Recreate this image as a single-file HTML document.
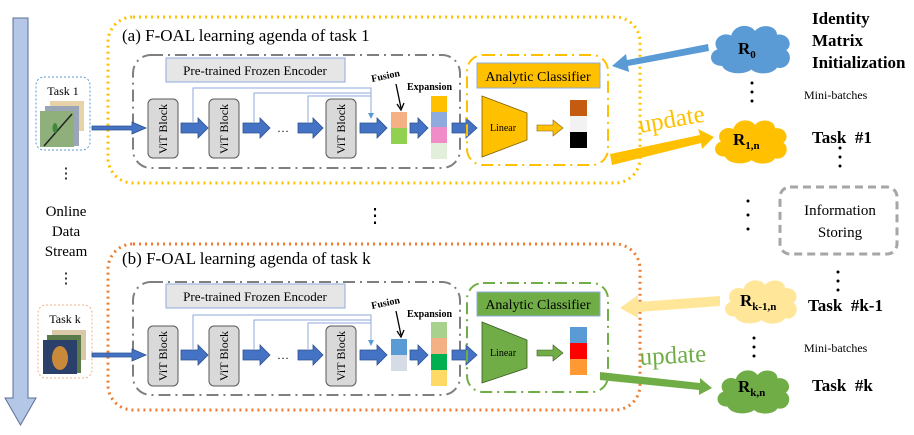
<!DOCTYPE html>
<html><head><meta charset="utf-8"><style>html,body{margin:0;padding:0;background:#fff}svg{display:block}</style></head><body>
<svg width="914" height="435" viewBox="0 0 914 435" xmlns="http://www.w3.org/2000/svg" font-family="Liberation Serif, serif">
<defs>
<marker id="ah" markerWidth="6" markerHeight="6" refX="3" refY="3" orient="auto"><path d="M0,0 L6,3 L0,6z" fill="#5b9bd5"/></marker>
<symbol id="cloud" viewBox="0 0 100 60"><path d="M20,50 C5,50 5,35 15,32 C8,22 20,12 30,17 C33,5 50,3 56,12 C63,3 80,6 80,16 C93,14 98,28 90,33 C99,40 92,55 80,52 C75,60 58,60 52,54 C45,60 25,60 20,50z"/></symbol>
</defs>
<path d="M13,18 H28 V398 H36 L20.5,425 L5,398 H13z" fill="#b4c7e7" stroke="#5a6f96" stroke-width="1"/>
<g font-size="15" text-anchor="middle" fill="#000">
<text x="66" y="216">Online</text><text x="66" y="236">Data</text><text x="66" y="256">Stream</text>
<text x="66" y="178">⋮</text><text x="66" y="283">⋮</text>
</g>
<text x="375" y="222" font-size="20" text-anchor="middle">⋮</text>

<rect x="108" y="17" width="532" height="166" rx="25" fill="none" stroke="#ffc000" stroke-width="3" stroke-dasharray="2,4"/>
<text x="122" y="41" font-size="17">(a) F-OAL learning agenda of task 1</text>
<rect x="133" y="55" width="327" height="113" rx="18" fill="none" stroke="#7f7f7f" stroke-width="2" stroke-dasharray="12,5,2,5"/>
<rect x="166" y="58" width="179" height="24" fill="#e7e6e6" stroke="#8faadc"/>
<text x="255" y="75" font-size="13" text-anchor="middle">Pre-trained Frozen Encoder</text>
<rect x="36" y="77" width="54" height="73" rx="8" fill="none" stroke="#5b9bd5" stroke-dasharray="2,2"/>
<text x="63" y="95" font-size="12" text-anchor="middle">Task 1</text>
<rect x="50" y="101" width="34" height="30" fill="#e8d3a8"/><rect x="45" y="106" width="34" height="40" fill="#9aa6b8"/><rect x="40" y="111" width="34" height="36" fill="#8fb07a"/>
<path d="M44,146 L72,114" stroke="#222" stroke-width="1.5"/><ellipse cx="55" cy="128" rx="2.5" ry="5" fill="#3c8a3c"/>
<g fill="#4472c4" stroke="#2f528f" stroke-width="0.8">
<path d="M92,126 H132 V122 L146,128 L132,134 V130 H92z"/>
<path d="M181,123 H198 V118 L208,128 L198,138 V133 H181z"/>
<path d="M243,123 H260 V118 L270,128 L260,138 V133 H243z"/>
<path d="M298,123 H313 V118 L323,128 L313,138 V133 H298z"/>
<path d="M360,123 H377 V118 L387,128 L377,138 V133 H360z"/>
<path d="M410,123 H418 V118 L428,128 L418,138 V133 H410z"/>
<path d="M452,123 H466 V118 L477,128 L466,138 V133 H452z"/>
</g>
<text x="283" y="132" font-size="12" text-anchor="middle">…</text>
<g fill="#d9d9d9" stroke="#595959" stroke-width="1">
<rect x="148" y="99" width="30" height="59" rx="5"/><rect x="209" y="99" width="30" height="59" rx="5"/><rect x="326" y="99" width="30" height="59" rx="5"/>
</g>
<g font-size="12" text-anchor="middle">
<text transform="translate(167,129) rotate(-90)">ViT Block</text>
<text transform="translate(228,129) rotate(-90)">ViT Block</text>
<text transform="translate(345,129) rotate(-90)">ViT Block</text>
</g>
<g fill="none" stroke="#8faadc" stroke-width="1">
<path d="M193,122 V88 H371 V116" marker-end="url(#ah)"/><path d="M254,122 V93 H371"/><path d="M308,122 V96 H371"/>
</g>
<text transform="translate(372,82) rotate(-12)" font-size="10" font-weight="bold">Fusion</text>
<path d="M396,84 L401,108" stroke="#000" stroke-width="1.3"/><path d="M397,104 L401,110 L404,103" fill="none" stroke="#000" stroke-width="1.3"/>
<rect x="391" y="112" width="16" height="16" fill="#f4b183"/><rect x="391" y="128" width="16" height="16" fill="#92d050"/>
<text x="407" y="90" font-size="10" font-weight="bold">Expansion</text>
<rect x="431" y="96" width="16" height="16" fill="#ffc000"/><rect x="431" y="112" width="16" height="15" fill="#8faadc"/><rect x="431" y="127" width="16" height="16" fill="#f08cc8"/><rect x="431" y="143" width="16" height="16" fill="#e2efda"/>
<rect x="467" y="55" width="141" height="110" rx="16" fill="none" stroke="#ffc000" stroke-width="2" stroke-dasharray="12,5,2,5"/>
<rect x="477" y="63" width="123" height="25" fill="#ffc000" stroke="#8faadc"/>
<text x="538" y="81" font-size="14" text-anchor="middle">Analytic Classifier</text>
<path d="M482,96 L527,113 L527,140 L482,157z" fill="#ffc000" stroke="#7f6000" stroke-width="0.8"/>
<text x="503" y="131" font-size="10" text-anchor="middle">Linear</text>
<path d="M537,125 H553 V120 L563,128 L553,136 V131 H537z" fill="#ffc000" stroke="#7f6000" stroke-width="0.6"/>
<rect x="570" y="100" width="17" height="16" fill="#c55a11"/><rect x="570" y="116" width="17" height="16" fill="#f2f2f2"/><rect x="570" y="132" width="17" height="16" fill="#000"/>
<path d="M708,44 L627,60 L626,54 L612,66 L629,72 L628,66 L709,51z" fill="#5b9bd5"/>
<path d="M610,154 L700,135 L698,129 L714,137 L702,149 L701,143 L612,165z" fill="#ffc000"/>
<text transform="translate(640,133) rotate(-10)" font-size="25" fill="#ffc000">update</text>

<rect x="108" y="244" width="532" height="166" rx="25" fill="none" stroke="#ed7d31" stroke-width="3" stroke-dasharray="2,4"/>
<text x="122" y="264" font-size="17">(b) F-OAL learning agenda of task k</text>
<rect x="133" y="282" width="327" height="113" rx="18" fill="none" stroke="#7f7f7f" stroke-width="2" stroke-dasharray="12,5,2,5"/>
<rect x="166" y="284" width="179" height="24" fill="#e7e6e6" stroke="#8faadc"/>
<text x="255" y="301" font-size="13" text-anchor="middle">Pre-trained Frozen Encoder</text>
<rect x="38" y="305" width="54" height="73" rx="8" fill="none" stroke="#f4b183" stroke-dasharray="2,2"/>
<text x="65" y="323" font-size="12" text-anchor="middle">Task k</text>
<rect x="52" y="330" width="34" height="30" fill="#d9c9a8"/><rect x="47" y="335" width="34" height="38" fill="#5a7a4a"/><rect x="43" y="340" width="34" height="34" fill="#2a3f6a"/>
<ellipse cx="60" cy="358" rx="8" ry="12" fill="#c88a3a"/>
<g fill="#4472c4" stroke="#2f528f" stroke-width="0.8">
<path d="M92,353 H132 V349 L146,355 L132,361 V357 H92z"/>
<path d="M181,350 H198 V345 L208,355 L198,365 V360 H181z"/>
<path d="M243,350 H260 V345 L270,355 L260,365 V360 H243z"/>
<path d="M298,350 H313 V345 L323,355 L313,365 V360 H298z"/>
<path d="M360,350 H377 V345 L387,355 L377,365 V360 H360z"/>
<path d="M410,350 H418 V345 L428,355 L418,365 V360 H410z"/>
<path d="M452,350 H466 V345 L477,355 L466,365 V360 H452z"/>
</g>
<text x="283" y="359" font-size="12" text-anchor="middle">…</text>
<g fill="#d9d9d9" stroke="#595959" stroke-width="1">
<rect x="148" y="326" width="30" height="60" rx="5"/><rect x="209" y="326" width="30" height="60" rx="5"/><rect x="326" y="326" width="30" height="60" rx="5"/>
</g>
<g font-size="12" text-anchor="middle">
<text transform="translate(167,356) rotate(-90)">ViT Block</text>
<text transform="translate(228,356) rotate(-90)">ViT Block</text>
<text transform="translate(345,356) rotate(-90)">ViT Block</text>
</g>
<g fill="none" stroke="#8faadc" stroke-width="1">
<path d="M193,349 V315 H371 V343" marker-end="url(#ah)"/><path d="M254,349 V320 H371"/><path d="M308,349 V323 H371"/>
</g>
<text transform="translate(372,309) rotate(-12)" font-size="10" font-weight="bold">Fusion</text>
<path d="M396,311 L401,335" stroke="#000" stroke-width="1.3"/><path d="M397,331 L401,337 L404,330" fill="none" stroke="#000" stroke-width="1.3"/>
<rect x="391" y="339" width="16" height="16" fill="#5b9bd5"/><rect x="391" y="355" width="16" height="16" fill="#d6dce5"/>
<text x="407" y="317" font-size="10" font-weight="bold">Expansion</text>
<rect x="431" y="322" width="16" height="16" fill="#a9d18e"/><rect x="431" y="338" width="16" height="16" fill="#f4b183"/><rect x="431" y="354" width="16" height="16" fill="#00b050"/><rect x="431" y="370" width="16" height="16" fill="#ffd966"/>
<rect x="467" y="283" width="141" height="109" rx="16" fill="none" stroke="#70ad47" stroke-width="2" stroke-dasharray="12,5,2,5"/>
<rect x="477" y="292" width="123" height="24" fill="#70ad47" stroke="#8faadc"/>
<text x="538" y="309" font-size="14" text-anchor="middle">Analytic Classifier</text>
<path d="M482,322 L527,340 L527,368 L482,383z" fill="#70ad47" stroke="#385723" stroke-width="0.8"/>
<text x="503" y="356" font-size="10" text-anchor="middle">Linear</text>
<path d="M537,350 H553 V345 L563,353 L553,361 V356 H537z" fill="#70ad47" stroke="#385723" stroke-width="0.6"/>
<rect x="570" y="327" width="17" height="16" fill="#5b9bd5"/><rect x="570" y="343" width="17" height="16" fill="#ff0000"/><rect x="570" y="359" width="17" height="16" fill="#ff9933"/>
<path d="M720,296 L638,302 L638,295 L620,308 L638,318 L638,312 L720,306z" fill="#ffe699"/>
<path d="M600,372 L700,383 L700,378 L712,388 L699,395 L699,390 L600,380z" fill="#70ad47"/>
<text transform="translate(640,365) rotate(-3)" font-size="25" fill="#70ad47">update</text>

<use href="#cloud" x="702" y="20" width="95" height="55" fill="#5b9bd5"/>
<use href="#cloud" x="705" y="115" width="90" height="50" fill="#ffc000"/>
<use href="#cloud" x="715" y="275" width="90" height="50" fill="#ffe699"/>
<use href="#cloud" x="705" y="365" width="95" height="50" fill="#70ad47"/>
<g font-weight="bold" font-size="17">
<text x="738" y="54">R<tspan font-size="11" dy="4">0</tspan></text>
<text x="733" y="145">R<tspan font-size="11" dy="4">1,n</tspan></text>
<text x="740" y="306">R<tspan font-size="11" dy="4">k-1,n</tspan></text>
<text x="738" y="392">R<tspan font-size="11" dy="4">k,n</tspan></text>
</g>
<g font-weight="bold" font-size="17">
<text x="812" y="24">Identity</text><text x="812" y="46">Matrix</text><text x="812" y="68">Initialization</text>
<text x="812" y="143">Task&#160;&#160;#1</text><text x="808" y="311">Task&#160;&#160;#k-1</text><text x="812" y="391">Task&#160;&#160;#k</text>
</g>
<text x="804" y="99" font-size="12">Mini-batches</text>
<text x="804" y="352" font-size="12">Mini-batches</text>
<g fill="#000">
<circle cx="752" cy="83" r="1.5"/><circle cx="752" cy="92" r="1.5"/><circle cx="752" cy="101" r="1.5"/>
<circle cx="748" cy="201" r="1.5"/><circle cx="748" cy="215" r="1.5"/><circle cx="748" cy="229" r="1.5"/>
<circle cx="754" cy="338" r="1.5"/><circle cx="754" cy="347" r="1.5"/><circle cx="754" cy="356" r="1.5"/>
<circle cx="840" cy="148" r="1.5"/><circle cx="840" cy="157" r="1.5"/><circle cx="840" cy="166" r="1.5"/>
<circle cx="838" cy="272" r="1.5"/><circle cx="838" cy="281" r="1.5"/><circle cx="838" cy="290" r="1.5"/>
</g>
<rect x="780" y="187" width="117" height="67" rx="10" fill="none" stroke="#a6a6a6" stroke-width="3" stroke-dasharray="8,5"/>
<text x="840" y="215" font-size="15" text-anchor="middle">Information</text>
<text x="840" y="237" font-size="15" text-anchor="middle">Storing</text>
</svg>
</body></html>
